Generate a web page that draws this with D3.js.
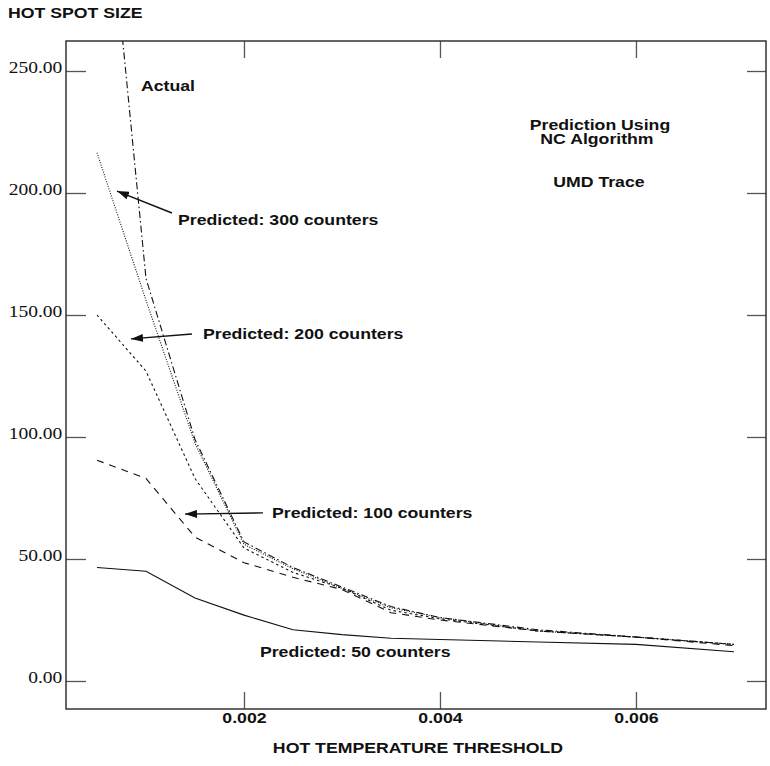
<!DOCTYPE html>
<html lang="en">
<head>
    <meta charset="UTF-8">
    <title>Hot Spot Size</title>
    <script src="https://d3js.org/d3.v7.min.js"></script>
    <style>
        body { margin: 0; background: white; }
        .lbl { font-family: "Liberation Sans", Arial, sans-serif; font-weight: bold; font-size: 14.5px; fill: #111; }
        .ytick { font-family: "Liberation Serif", "Times New Roman", serif; font-size: 16px; fill: #111; }
    </style>
</head>
<body>
    <div id="chart"></div>

    <script>
        // data
        const thresholds = [0.0005, 0.001, 0.0015, 0.002, 0.0025, 0.003, 0.0035, 0.004, 0.005, 0.006, 0.007];
        const actual  = [370, 165, 99, 57, 46.5, 38.5, 30.5, 26, 21, 18, 15];
        const pred300 = [216.5, 156, 97.5, 56, 46, 38, 30, 26, 20.5, 18, 15];
        const pred200 = [150, 127, 83, 54.5, 44.5, 38, 29, 25.5, 20.5, 18, 15];
        const pred100 = [90.5, 83, 59, 48.5, 42.5, 37.5, 28, 25, 20.5, 18, 14.5];
        const pred50  = [46.5, 45, 34, 27, 21, 19, 17.5, 17, 16, 15, 12];
        const xTicks = [0.002, 0.004, 0.006];
        const yTicks = [0, 50, 100, 150, 200, 250];

        const width = 770, height = 766;
        const plotLeft = 66, plotRight = 766, plotTop = 41, plotBottom = 709;
        const stretch = 1.22;

        const svg = d3.select("#chart").append("svg")
            .attr("width", width)
            .attr("height", height);

        const x = d3.scaleLinear().domain([0.0001837, 0.007327]).range([plotLeft, plotRight]);
        const y = d3.scaleLinear().domain([-11.48, 262.3]).range([plotBottom, plotTop]);

        const defs = svg.append("defs");
        defs.append("clipPath").attr("id", "plot")
            .append("rect")
            .attr("x", plotLeft).attr("y", plotTop)
            .attr("width", plotRight - plotLeft).attr("height", plotBottom - plotTop);

        // axes with inward ticks on all four sides
        function styleAxis(g) {
            g.select(".domain").remove();
            g.selectAll(".tick line").attr("stroke", "#555").attr("stroke-width", 1.3);
        }

        svg.append("g")
            .attr("transform", `translate(${plotLeft},0)`)
            .call(d3.axisLeft(y).tickValues(yTicks).tickSize(-20).tickPadding(3).tickFormat(d3.format(".2f")))
            .call(styleAxis)
            .call(g => g.selectAll("text")
                .attr("class", "ytick")
                .attr("font-family", null).attr("font-size", null)
                .attr("dy", "0.1em")
                .attr("transform", `scale(${stretch},1)`));

        svg.append("g")
            .attr("transform", `translate(${plotRight},0)`)
            .call(d3.axisRight(y).tickValues(yTicks).tickSize(-19).tickFormat(""))
            .call(styleAxis);

        svg.append("g")
            .attr("transform", `translate(0,${plotBottom})`)
            .call(d3.axisBottom(x).tickValues(xTicks).tickSize(-17).tickPadding(4).tickFormat(d3.format(".3f")))
            .call(styleAxis)
            .call(g => g.selectAll("text")
                .attr("class", "lbl")
                .attr("font-family", null).attr("font-size", null)
                .attr("transform", `scale(${stretch},1)`)
                .attr("x", 0));

        svg.append("g")
            .attr("transform", `translate(0,${plotTop})`)
            .call(d3.axisTop(x).tickValues(xTicks).tickSize(-17).tickFormat(""))
            .call(styleAxis);

        // frame
        svg.append("rect")
            .attr("x", plotLeft).attr("y", plotTop)
            .attr("width", plotRight - plotLeft).attr("height", plotBottom - plotTop)
            .attr("fill", "none")
            .attr("stroke", "#333")
            .attr("stroke-width", 1.5);

        // series
        const series = [
            { values: actual,  dash: "7,3,1.5,3" },
            { values: pred300, dash: "1,1.5" },
            { values: pred200, dash: "2.5,3" },
            { values: pred100, dash: "7,6" },
            { values: pred50,  dash: null }
        ];

        const line = d3.line()
            .x((d, i) => x(thresholds[i]))
            .y(d => y(d));

        svg.append("g")
            .attr("clip-path", "url(#plot)")
            .selectAll("path")
            .data(series)
            .enter().append("path")
            .attr("d", d => line(d.values))
            .attr("fill", "none")
            .attr("stroke", "#111")
            .attr("stroke-width", 1.1)
            .attr("stroke-dasharray", d => d.dash);

        // annotations (data coordinates)
        const arrows = [
            { from: [0.001265, 191.8], to: [0.000704, 200.8] },
            { from: [0.001469, 142.2], to: [0.000847, 140.2] },
            { from: [0.002194, 68.9],  to: [0.001398, 68.4] }
        ];

        defs.append("marker")
            .attr("id", "head")
            .attr("viewBox", "0 0 12 8")
            .attr("refX", 12).attr("refY", 4)
            .attr("markerWidth", 12).attr("markerHeight", 8)
            .attr("markerUnits", "userSpaceOnUse")
            .attr("orient", "auto")
            .append("path")
            .attr("d", "M0,0 L12,4 L0,8 Z")
            .attr("fill", "#111");

        svg.append("g").selectAll("line")
            .data(arrows)
            .enter().append("line")
            .attr("x1", d => x(d.from[0])).attr("y1", d => y(d.from[1]))
            .attr("x2", d => x(d.to[0])).attr("y2", d => y(d.to[1]))
            .attr("stroke", "#111")
            .attr("stroke-width", 1.4)
            .attr("marker-end", "url(#head)");

        const notes = [
            { text: "Actual", at: [0.000949, 242], anchor: "start" },
            { text: "Predicted: 300 counters", at: [0.001327, 187], anchor: "start" },
            { text: "Predicted: 200 counters", at: [0.001582, 140], anchor: "start" },
            { text: "Predicted: 100 counters", at: [0.002286, 67], anchor: "start" },
            { text: "Predicted: 50 counters", at: [0.002163, 10], anchor: "start" },
            { text: "Prediction Using", at: [0.005633, 226], anchor: "middle" },
            { text: "NC Algorithm", at: [0.005602, 220], anchor: "middle" },
            { text: "UMD Trace", at: [0.005622, 202.5], anchor: "middle" }
        ];

        svg.append("g").selectAll("text")
            .data(notes)
            .enter().append("text")
            .attr("class", "lbl")
            .attr("text-anchor", d => d.anchor)
            .attr("transform", d => `translate(${x(d.at[0])},${y(d.at[1])}) scale(${stretch},1)`)
            .text(d => d.text);

        // axis titles
        svg.append("text")
            .attr("class", "lbl")
            .attr("transform", `translate(8,18) scale(${stretch},1)`)
            .text("HOT SPOT SIZE");

        svg.append("text")
            .attr("class", "lbl")
            .attr("text-anchor", "middle")
            .attr("transform", `translate(${(plotLeft + plotRight) / 2 + 2},753) scale(${stretch},1)`)
            .text("HOT TEMPERATURE THRESHOLD");
    </script>
</body>
</html>
